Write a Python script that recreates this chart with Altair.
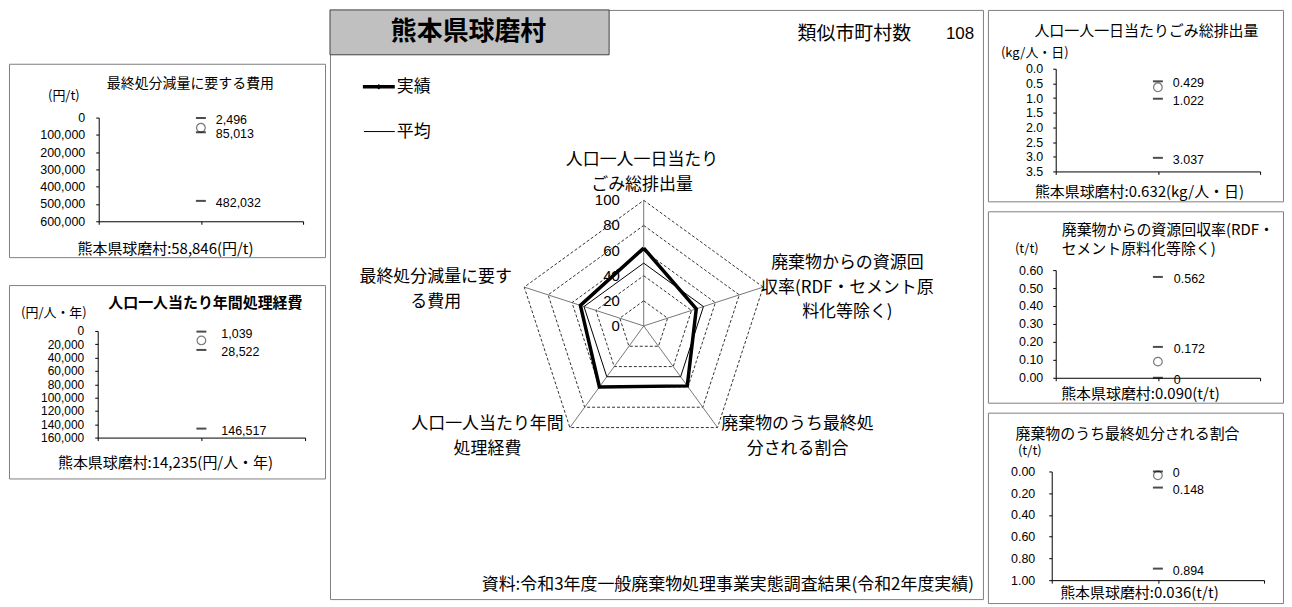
import altair as alt
import pandas as pd

JP = "Noto Sans CJK JP"
NUM = "Liberation Sans"

# ---------------- data ----------------
municipality = "熊本県球磨村"
similar_label = "類似市町村数"
similar_count = "108"
source_note = "資料:令和3年度一般廃棄物処理事業実態調査結果(令和2年度実績)"
legend_actual = "実績"
legend_average = "平均"

radar_labels = [
    "人口一人一日当たり\nごみ総排出量",
    "廃棄物からの資源回\n収率(RDF・セメント原\n料化等除く)",
    "廃棄物のうち最終処\n分される割合",
    "人口一人当たり年間\n処理経費",
    "最終処分減量に要す\nる費用",
]
radar_actual = [62, 44, 59, 60, 53]
radar_average = [50, 50, 50, 50, 50]
radar_levels = [20, 40, 60, 80, 100]
radar_ticks = [0, 20, 40, 60, 80, 100]

cost_title = "最終処分減量に要する費用"
cost_unit = "(円/t)"
cost_ticks = [0, 100000, 200000, 300000, 400000, 500000, 600000]
cost_refs = [2496, 85013, 482032]
cost_ref_labels = ["2,496", "85,013", "482,032"]
cost_actual = 58846
cost_footer = "熊本県球磨村:58,846(円/t)"

exp_title = "人口一人当たり年間処理経費"
exp_unit = "(円/人・年)"
exp_ticks = [0, 20000, 40000, 60000, 80000, 100000, 120000, 140000, 160000]
exp_refs = [1039, 28522, 146517]
exp_ref_labels = ["1,039", "28,522", "146,517"]
exp_actual = 14235
exp_footer = "熊本県球磨村:14,235(円/人・年)"

waste_title = "人口一人一日当たりごみ総排出量"
waste_unit = "(kg/人・日)"
waste_ticks = [0.0, 0.5, 1.0, 1.5, 2.0, 2.5, 3.0, 3.5]
waste_refs = [0.429, 1.022, 3.037]
waste_ref_labels = ["0.429", "1.022", "3.037"]
waste_actual = 0.632
waste_footer = "熊本県球磨村:0.632(kg/人・日)"

rec_title = "廃棄物からの資源回収率(RDF・\nセメント原料化等除く)"
rec_unit = "(t/t)"
rec_ticks = [0.0, 0.1, 0.2, 0.3, 0.4, 0.5, 0.6]
rec_refs = [0.562, 0.172, 0.0]
rec_ref_labels = ["0.562", "0.172", "0"]
rec_actual = 0.090
rec_footer = "熊本県球磨村:0.090(t/t)"

land_title = "廃棄物のうち最終処分される割合"
land_unit = "(t/t)"
land_ticks = [0.0, 0.2, 0.4, 0.6, 0.8, 1.0]
land_refs = [0.0, 0.148, 0.894]
land_ref_labels = ["0", "0.148", "0.894"]
land_actual = 0.036
land_footer = "熊本県球磨村:0.036(t/t)"


# ---------------- helpers ----------------
def txt(s, x, y, size, align="center", baseline="middle", weight="normal",
        font=JP, lh=None):
    kw = dict(align=align, baseline=baseline, fontSize=size, font=font,
              fontWeight=weight, color="black", lineBreak="\n")
    if lh is not None:
        kw["lineHeight"] = lh
    return alt.Chart(pd.DataFrame({"t": [s]})).mark_text(**kw).encode(
        x=alt.value(x), y=alt.value(y), text="t:N")


def panel(title, unit, ticks, fmt, refs, ref_labels, actual, footer,
          top_zero, g):
    W, H = g["W"], g["H"]
    xs = alt.Scale(domain=[0, 2], range=[g["ax"], g["ax2"]], nice=False, zero=False)
    rng = [g["ay"], g["ay2"]] if top_zero else [g["ay2"], g["ay"]]
    ys = alt.Scale(domain=[ticks[0], ticks[-1]], range=rng, nice=False, zero=False)
    xaxis = alt.Axis(values=[0, 1, 2], labels=False, tickSize=3, grid=False,
                     title=None, orient="bottom", offset=-(H - g["ay2"]),
                     domainColor="black", tickColor="black")
    yaxis = alt.Axis(values=ticks, format=fmt, tickSize=3, grid=False, title=None,
                     orient="left", offset=-g["ax"], labelPadding=g["lp"],
                     labelFont=NUM, labelFontSize=g["lfs"], labelColor="black",
                     labelOverlap=False, domainColor="black", tickColor="black")
    X = alt.X("x:Q", scale=xs, axis=xaxis)
    Y = alt.Y("v:Q", scale=ys, axis=yaxis)
    refs_df = pd.DataFrame({"x": [1] * len(refs), "v": refs, "lab": ref_labels})
    act_df = pd.DataFrame({"x": [1], "v": [actual]})
    circle = alt.Chart(act_df).mark_point(
        shape="circle", filled=False, size=75, color="#404040", strokeWidth=1.2
    ).encode(x=X, y=Y)
    dashes = alt.Chart(refs_df).mark_tick(
        orient="horizontal", size=10, thickness=2, color="black"
    ).encode(x=X, y=Y)
    labels = alt.Chart(refs_df).mark_text(
        align="left", baseline="middle", dx=g["dx"], dy=2, font=NUM,
        fontSize=12.5, color="black"
    ).encode(x=X, y=Y, text="lab:N")
    layers = [circle, dashes, labels]
    tl = g["title"]
    if "\n" in title:
        layers.append(txt(title, tl[0], tl[1], tl[2], align="left",
                          baseline="top", lh=19))
    else:
        layers.append(txt(title, tl[0], tl[1], tl[2], weight=tl[3]))
    layers.append(txt(unit, g["unit"][0], g["unit"][1], 13))
    layers.append(txt(footer, g["foot"][0], g["foot"][1], 15))
    return alt.layer(*layers).properties(width=W, height=H)


# ---------------- mini panels ----------------
p_cost = panel(cost_title, cost_unit, cost_ticks, ",.0f", cost_refs, cost_ref_labels,
               cost_actual, cost_footer, True,
               dict(W=317, H=194, ax=90, ax2=295, ay=54, ay2=158, lp=11, lfs=12.5,
                    dx=15, title=(182, 20, 14, "normal"), unit=(55, 32),
                    foot=(157, 186)))
p_exp = panel(exp_title, exp_unit, exp_ticks, ",.0f", exp_refs, exp_ref_labels,
              exp_actual, exp_footer, True,
              dict(W=317, H=194, ax=89, ax2=297, ay=46, ay2=153, lp=11, lfs=12,
                   dx=20, title=(197, 18, 15, "bold"), unit=(45, 28),
                   foot=(157, 179)))
p_waste = panel(waste_title, waste_unit, waste_ticks, ".1f", waste_refs,
                waste_ref_labels, waste_actual, waste_footer, True,
                dict(W=296, H=192, ax=68, ax2=273, ay=59, ay2=162, lp=10, lfs=12.5,
                     dx=15, title=(159, 21, 15, "normal"), unit=(47, 43),
                     foot=(152, 183)))
p_rec = panel(rec_title, rec_unit, rec_ticks, ".2f", rec_refs, rec_ref_labels,
              rec_actual, rec_footer, False,
              dict(W=296, H=192, ax=68, ax2=273, ay=59, ay2=167, lp=10, lfs=12.5,
                   dx=16, title=(74, 12, 15, "normal"), unit=(39, 38),
                   foot=(153, 183)))
p_land = panel(land_title, land_unit, land_ticks, ".2f", land_refs, land_ref_labels,
               land_actual, land_footer, True,
               dict(W=296, H=191, ax=64, ax2=277, ay=59, ay2=168, lp=14, lfs=12.5,
                    dx=15, title=(140, 21, 15, "normal"), unit=(42, 38),
                    foot=(152, 181)))

# ---------------- radar panel ----------------
R = 126
CX, CY = 314.7, 317
rx = alt.Scale(domain=[-100, 100], range=[CX - R, CX + R], nice=False, zero=False)
ry = alt.Scale(domain=[-100, 100], range=[CY + R, CY - R], nice=False, zero=False)
ang = dict(px="datum.r * sin(2 * PI * datum.i / 5)",
           py="datum.r * cos(2 * PI * datum.i / 5)", z="0")

grid_df = pd.DataFrame([{"r": lv, "i": i} for lv in radar_levels for i in range(6)])
spoke_df = pd.DataFrame({"i": list(range(5)), "r": [radar_levels[-1]] * 5})
avg_df = pd.DataFrame({"i": list(range(6)),
                       "r": [radar_average[i % 5] for i in range(6)]})
act_df = pd.DataFrame({"i": list(range(6)),
                       "r": [radar_actual[i % 5] for i in range(6)]})
tick_df = pd.DataFrame({"r": radar_ticks, "i": [0] * len(radar_ticks)})

PX = alt.X("px:Q", scale=rx, axis=None)
PY = alt.Y("py:Q", scale=ry, axis=None)

grid = alt.Chart(grid_df).transform_calculate(**ang).mark_line(
    color="black", strokeWidth=0.8, strokeDash=[3, 2]
).encode(x=PX, y=PY, detail="r:N", order="i:Q")
spokes = alt.Chart(spoke_df).transform_calculate(**ang).mark_rule(
    color="#555555", strokeWidth=0.8
).encode(x=alt.X("z:Q", scale=rx, axis=None), y=alt.Y("z:Q", scale=ry, axis=None),
         x2="px:Q", y2="py:Q")
avg_line = alt.Chart(avg_df).transform_calculate(**ang).mark_line(
    color="black", strokeWidth=1
).encode(x=PX, y=PY, order="i:Q")
act_line = alt.Chart(act_df).transform_calculate(**ang).mark_line(
    color="black", strokeWidth=3.5
).encode(x=PX, y=PY, order="i:Q")
tick_labels = alt.Chart(tick_df).transform_calculate(**ang).mark_text(
    align="right", baseline="middle", dx=-24, font=NUM, fontSize=15, color="black"
).encode(x=PX, y=PY, text="r:Q")

label_pos = [(313, 143, 25), (519, 246, 24.5), (469, 407, 25), (158, 407, 25),
             (106, 260, 25)]
axis_label_layers = [
    txt(lab, p[0], p[1], 17, baseline="top", lh=p[2])
    for lab, p in zip(radar_labels, label_pos)
]

one = pd.DataFrame({"a": [0]})
title_rect = alt.Chart(one).mark_rect(
    fill="#c0c0c0", stroke="#404040", strokeWidth=1
).encode(x=alt.value(0), x2=alt.value(280), y=alt.value(0), y2=alt.value(45))
leg_thick = alt.Chart(one).mark_rule(color="black", strokeWidth=3.5).encode(
    x=alt.value(33), x2=alt.value(65), y=alt.value(77))
leg_marker = alt.Chart(one).mark_point(
    shape="diamond", filled=True, color="black", size=30, opacity=1
).encode(x=alt.value(49), y=alt.value(77))
leg_thin = alt.Chart(one).mark_rule(color="black", strokeWidth=1).encode(
    x=alt.value(34), x2=alt.value(65), y=alt.value(122))

center = alt.layer(
    title_rect,
    txt(municipality, 139, 22, 26, weight="bold"),
    txt(similar_label, 526, 24, 19),
    txt(similar_count, 632, 24, 17, font=NUM),
    leg_thick, leg_marker, txt(legend_actual, 67, 77, 17, align="left"),
    leg_thin, txt(legend_average, 67, 122, 17, align="left"),
    grid, spokes, avg_line, act_line, tick_labels,
    *axis_label_layers,
    txt(source_note, 646, 577, 17, align="right"),
).properties(width=655, height=591)

spacer = alt.Chart(one).mark_point(opacity=0, size=1).encode(
    x=alt.value(150), y=alt.value(13)
).properties(width=317, height=26, view=alt.ViewBackground(stroke="transparent"))

left_col = alt.vconcat(spacer, p_cost, p_exp, spacing=26)
right_col = alt.vconcat(p_waste, p_rec, p_land, spacing=8)

chart = alt.hconcat(left_col, center, right_col, spacing=3).properties(
    padding={"left": 0, "top": 0, "right": 0, "bottom": 0}
).configure_view(stroke="#7f7f7f", strokeWidth=1)

chart.save("out.html", embed_options={"renderer": "svg", "actions": False})
